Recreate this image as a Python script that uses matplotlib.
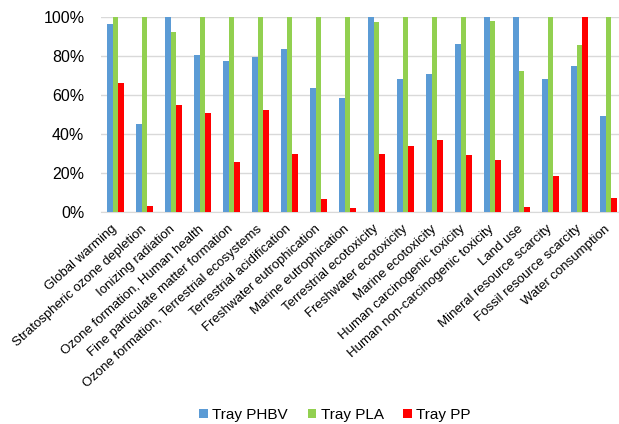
import matplotlib.pyplot as plt
import numpy as np
from matplotlib.ticker import PercentFormatter

plt.rcParams['font.family'] = ['Liberation Sans', 'DejaVu Sans']

# Data (share of the maximum per impact category, %)
categories = [
    "Global warming", "Stratospheric ozone depletion", "Ionizing radiation",
    "Ozone formation, Human health", "Fine particulate matter formation",
    "Ozone formation, Terrestrial ecosystems", "Terrestrial acidification",
    "Freshwater eutrophication", "Marine eutrophication",
    "Terrestrial ecotoxicity", "Freshwater ecotoxicity", "Marine ecotoxicity",
    "Human carcinogenic toxicity", "Human non-carcinogenic toxicity",
    "Land use", "Mineral resource scarcity", "Fossil resource scarcity",
    "Water consumption",
]
phbv = [96.6, 45.3, 100, 80.3, 77.4, 79.4, 83.4, 63.5, 58.5,
        100, 68.1, 70.7, 86.4, 100, 100, 68.1, 74.8, 49.4]
pla = [100, 100, 92.1, 100, 100, 100, 100, 100, 100,
       97.6, 100, 100, 100, 98.1, 72.2, 100, 85.4, 100]
pp = [66.2, 3.1, 54.9, 50.9, 25.4, 52.5, 30.0, 6.5, 2.1,
      29.5, 33.6, 36.7, 29.0, 26.6, 2.6, 18.4, 100, 7.2]

fig = plt.figure(figsize=(6.19, 4.24), dpi=100)
ax = fig.add_axes([101 / 619, 1 - 212 / 424, 522 / 619, 195 / 424])

x = np.arange(len(categories))
w = 0.19
ax.bar(x - w, phbv, w, color='#5B9BD5', label='Tray PHBV', zorder=3)
ax.bar(x, pla, w, color='#92D050', label='Tray PLA', zorder=3)
ax.bar(x + w, pp, w, color='#FF0000', label='Tray PP', zorder=3)

ax.set_xlim(-0.5, len(categories) - 0.5)
ax.set_ylim(0, 100)
ax.set_yticks(np.arange(0, 101, 20))
ax.yaxis.set_major_formatter(PercentFormatter(decimals=0))
ax.grid(axis='y', color='#D9D9D9', linewidth=1, zorder=0)

for s in ['top', 'right', 'left']:
    ax.spines[s].set_visible(False)
ax.spines['bottom'].set_color('#D9D9D9')

ax.set_xticks(x)
ax.set_xticklabels(categories, rotation=42, ha='right', va='center',
                   rotation_mode='anchor', fontsize=9.5)
ax.tick_params(axis='x', length=0, pad=11)
ax.tick_params(axis='y', length=0, labelsize=11.5, pad=12)

fig.legend(loc='center', bbox_to_anchor=(335 / 619, 1 - 415 / 424), ncol=3,
           frameon=False, fontsize=11, handlelength=0.55, handleheight=0.55,
           columnspacing=1.3, handletextpad=0.3)

fig.savefig('out.png', dpi=100)
